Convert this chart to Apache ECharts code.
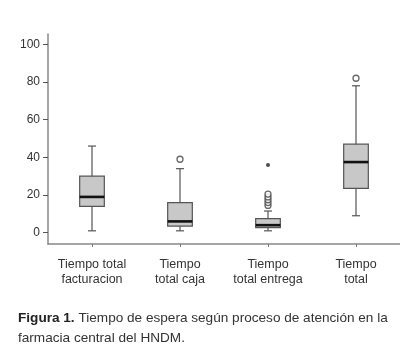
<!DOCTYPE html>
<html>
<head>
    <meta charset="utf-8">
    <title>Tiempo de espera</title>
    <style>
        html, body { margin: 0; padding: 0; background: #fff; }
        #chart { width: 400px; height: 355px; }
    </style>
</head>
<body>
<div id="chart"></div>
<script src="https://cdn.jsdelivr.net/npm/echarts@6/dist/echarts.min.js"></script>
<script>
    // categorias del eje x
    var categorias = ['Tiempo total\nfacturacion', 'Tiempo\ntotal caja', 'Tiempo\ntotal entrega', 'Tiempo\ntotal'];
    // [min, Q1, mediana, Q3, max]
    var cajas = [
        [1, 14, 19, 30, 46],
        [1, 3.5, 6, 16, 34],
        [1, 2.7, 4, 7.5, 11.5],
        [9, 23.5, 37.5, 47, 78]
    ];
    // valores atipicos [indice categoria, valor]
    var atipicos = [
        [1, 39],
        [2, 14.5], [2, 16], [2, 17.5], [2, 19], [2, 20.5],
        [3, 82]
    ];
    // valores extremos
    var extremos = [
        [2, 36]
    ];
    var ticksY = [0, 20, 40, 60, 80, 100];

    var chart = echarts.init(document.getElementById('chart'));

    function dibujarCaja(params, api) {
        var x = api.value(0);
        var pMin = api.coord([x, api.value(1)]);
        var pQ1 = api.coord([x, api.value(2)]);
        var pMed = api.coord([x, api.value(3)]);
        var pQ3 = api.coord([x, api.value(4)]);
        var pMax = api.coord([x, api.value(5)]);
        var ancho = api.size([1, 0])[0] * 0.28;
        var tapa = 4;
        var cx = pMin[0];
        var linea = {stroke: '#555', lineWidth: 1.2};
        return {
            type: 'group',
            children: [
                {type: 'line', shape: {x1: cx, y1: pMax[1], x2: cx, y2: pMin[1]}, style: linea},
                {type: 'line', shape: {x1: cx - tapa, y1: pMax[1], x2: cx + tapa, y2: pMax[1]}, style: linea},
                {type: 'line', shape: {x1: cx - tapa, y1: pMin[1], x2: cx + tapa, y2: pMin[1]}, style: linea},
                {type: 'rect', shape: {x: cx - ancho / 2, y: pQ3[1], width: ancho, height: pQ1[1] - pQ3[1]},
                    style: {fill: '#c8c8c8', stroke: '#555', lineWidth: 1.2}},
                {type: 'line', shape: {x1: cx - ancho / 2, y1: pMed[1], x2: cx + ancho / 2, y2: pMed[1]},
                    style: {stroke: '#111', lineWidth: 2.6}}
            ]
        };
    }

    var datosCajas = cajas.map(function (c, i) {
        return [i].concat(c);
    });

    chart.setOption({
        animation: false,
        title: {
            left: 18,
            top: 308,
            padding: 0,
            text: '{b|Figura 1.} Tiempo de espera según proceso de atención en la\nfarmacia central del HNDM.',
            textStyle: {
                fontFamily: 'Liberation Sans, Arial, sans-serif',
                fontSize: 13.6,
                fontWeight: 'normal',
                color: '#333',
                lineHeight: 20,
                rich: {
                    b: {fontWeight: 'bold', fontSize: 13.6, color: '#222', fontFamily: 'Liberation Sans, Arial, sans-serif'}
                }
            }
        },
        grid: {
            left: 48,
            top: 34,
            width: 360,
            height: 210
        },
        xAxis: {
            type: 'category',
            data: categorias,
            axisLine: {onZero: false, lineStyle: {color: '#888', width: 1.5}},
            axisTick: {show: true, alignWithLabel: true, length: 3, lineStyle: {color: '#777'}},
            axisLabel: {
                interval: 0,
                margin: 13,
                fontFamily: 'Liberation Sans, Arial, sans-serif',
                fontSize: 12.5,
                lineHeight: 15,
                color: '#333'
            },
            splitLine: {show: false}
        },
        yAxis: {
            type: 'value',
            min: -6,
            max: 105.5,
            axisLine: {show: true, lineStyle: {color: '#888', width: 1.5}},
            axisTick: {show: true, length: 5, customValues: ticksY, lineStyle: {color: '#555'}},
            axisLabel: {
                customValues: ticksY,
                margin: 8,
                fontFamily: 'Liberation Sans, Arial, sans-serif',
                fontSize: 12,
                color: '#333'
            },
            splitLine: {show: false}
        },
        series: [
            {
                type: 'custom',
                renderItem: dibujarCaja,
                encode: {x: 0, y: [1, 2, 3, 4, 5]},
                data: datosCajas,
                z: 2
            },
            {
                type: 'scatter',
                symbol: 'circle',
                symbolSize: 6,
                itemStyle: {color: '#fff', borderColor: '#444', borderWidth: 1.3},
                data: atipicos,
                z: 3
            },
            {
                type: 'scatter',
                symbol: 'circle',
                symbolSize: 4,
                itemStyle: {color: '#222'},
                data: extremos,
                z: 3
            }
        ]
    });
</script>
</body>
</html>
